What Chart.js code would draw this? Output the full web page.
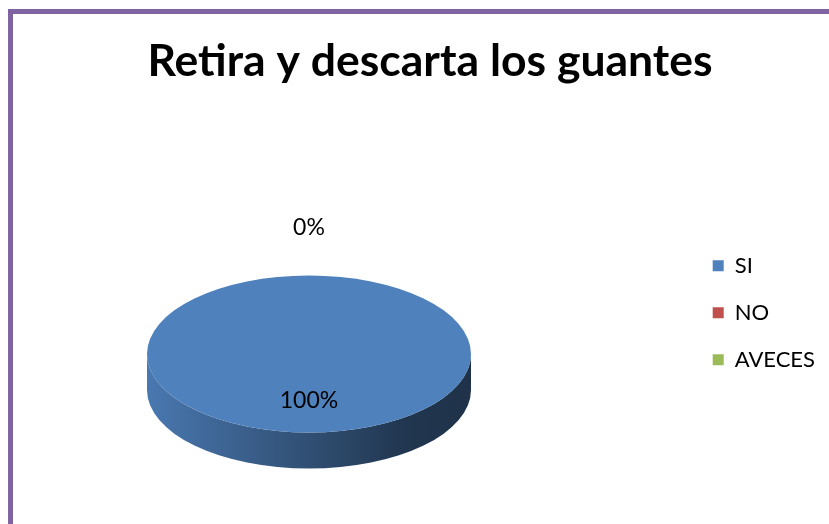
<!DOCTYPE html>
<html lang="es">
<head>
<meta charset="utf-8">
<title>Retira y descarta los guantes</title>
<script src="https://cdn.jsdelivr.net/npm/chart.js@4.4.1/dist/chart.umd.min.js"></script>
<style>
    html, body { margin: 0; padding: 0; background: #fff; }
    body { width: 829px; height: 524px; overflow: hidden; position: relative; }
    .frame {
        position: absolute; left: 8px; top: 9px; right: 0; bottom: 0;
        border-top: 5px solid #8064A2; border-left: 5px solid #8064A2;
    }
    .chart-box { position: relative; width: 816px; height: 510px; }
</style>
</head>
<body>
<div class="frame"><div class="chart-box"><canvas id="chart-guantes"></canvas></div></div>
<script>
const TITLE = 'Retira y descarta los guantes';
const CATEGORIES = ['SI', 'NO', 'AVECES'];
const VALUES = [100, 0, 0];
const COLORS = ['#4F81BD', '#C0504D', '#9BBB59'];

const FONT = "Lato, 'Open Sans', sans-serif";

// darken a hex colour by factor f (0..1)
function shade(hex, f) {
    const n = parseInt(hex.slice(1), 16);
    const r = Math.round(((n >> 16) & 255) * f);
    const g = Math.round(((n >> 8) & 255) * f);
    const b = Math.round((n & 255) * f);
    return `rgb(${r},${g},${b})`;
}

// fixed plot area like the spreadsheet chart (circle box before tilting)
const plotBox = {
    id: 'plotBox',
    afterLayout(chart, args, opts) {
        const a = chart.chartArea;
        a.left = opts.left;
        a.top = opts.top;
        a.width = opts.size;
        a.height = opts.size;
        a.right = opts.left + opts.size;
        a.bottom = opts.top + opts.size;
    }
};

// ── 3D look: squash the pie and add the side wall ─────────────
const pie3d = {
    id: 'pie3d',
    beforeDatasetsDraw(chart, args, opts) {
        const meta = chart.getDatasetMeta(0);
        const ctx = chart.ctx;
        meta.data.forEach((arc, i) => {
            const { x, y, outerRadius, startAngle, endAngle } = arc.getProps(['x', 'y', 'outerRadius', 'startAngle', 'endAngle'], true);
            if (endAngle - startAngle <= 0) return;
            const ry = outerRadius * opts.tilt;
            // visible front part of the wall: angles 0..PI (and the same one turn later)
            [0, 2 * Math.PI].forEach(shift => {
                const lo = Math.max(startAngle, shift);
                const hi = Math.min(endAngle, shift + Math.PI);
                if (hi <= lo) return;
                const grad = ctx.createLinearGradient(x - outerRadius, 0, x + outerRadius, 0);
                const c = COLORS[i];
                grad.addColorStop(0, shade(c, 0.93));
                grad.addColorStop(0.45, shade(c, 0.64));
                grad.addColorStop(0.8, shade(c, 0.42));
                grad.addColorStop(1, shade(c, 0.39));
                ctx.save();
                ctx.beginPath();
                ctx.ellipse(x, y, outerRadius, ry, 0, lo - shift, hi - shift);
                ctx.ellipse(x, y + opts.depth, outerRadius, ry, 0, hi - shift, lo - shift, true);
                ctx.closePath();
                ctx.fillStyle = grad;
                ctx.fill();
                ctx.restore();
            });
        });
        const cy = (chart.chartArea.top + chart.chartArea.bottom) / 2;
        ctx.save();
        ctx.translate(0, cy);
        ctx.scale(1, opts.tilt);
        ctx.translate(0, -cy);
    },
    afterDatasetsDraw(chart, args, opts) {
        const ctx = chart.ctx;
        ctx.restore();
        const meta = chart.getDatasetMeta(0);
        const total = VALUES.reduce((s, v) => s + v, 0);
        const seen = new Set();
        ctx.save();
        ctx.font = `23px ${FONT}`;
        ctx.fillStyle = '#000';
        ctx.textAlign = 'center';
        ctx.textBaseline = 'middle';
        meta.data.forEach((arc, i) => {
            const { x, y, outerRadius, startAngle, endAngle } = arc.getProps(['x', 'y', 'outerRadius', 'startAngle', 'endAngle'], true);
            const mid = (startAngle + endAngle) / 2;
            const k = VALUES[i] > 0 ? opts.inside : opts.outside;
            const lx = x + Math.cos(mid) * outerRadius * k;
            const ly = y + Math.sin(mid) * outerRadius * k * opts.tilt;
            const text = Math.round(VALUES[i] / total * 100) + '%';
            const key = `${Math.round(lx)}|${Math.round(ly)}|${text}`;
            if (seen.has(key)) return;
            seen.add(key);
            ctx.fillText(text, lx, ly);
        });
        ctx.restore();
    }
};

new Chart(document.getElementById('chart-guantes'), {
    type: 'pie',
    data: {
        labels: CATEGORIES,
        datasets: [{
            data: VALUES,
            backgroundColor: COLORS,
            borderWidth: 0,
        }]
    },
    options: {
        responsive: true,
        maintainAspectRatio: false,
        animation: false,
        layout: { padding: { left: 22, right: 4, top: 0, bottom: 0 } },
        plugins: {
            title: {
                display: true,
                text: TITLE,
                color: '#000',
                font: { family: FONT, size: 44.5, weight: 'bold' },
                padding: { top: 21, bottom: 13 }
            },
            legend: {
                position: 'right',
                fullSize: false,
                labels: {
                    color: '#000',
                    font: { family: FONT, size: 22 },
                    boxWidth: 11,
                    boxHeight: 11,
                    padding: 25
                }
            },
            tooltip: { enabled: false },
            plotBox: { left: 134, top: 178, size: 324 },
            pie3d: { tilt: 0.485, depth: 36, inside: 0.59, outside: 1.61 }
        }
    },
    plugins: [plotBox, pie3d]
});
</script>
</body>
</html>
